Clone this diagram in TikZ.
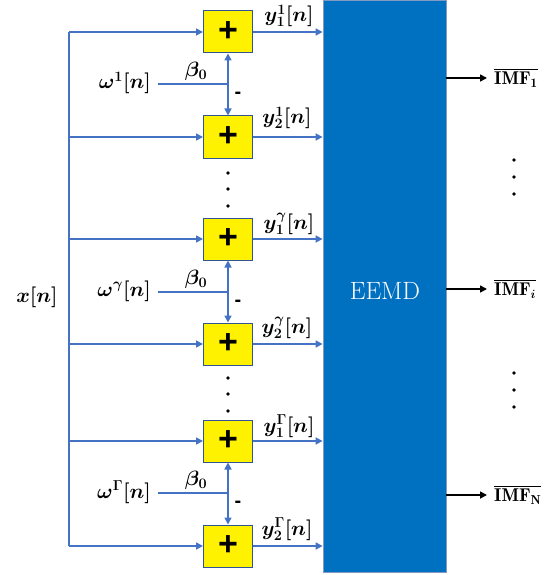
\documentclass[tikz,border=0pt]{standalone}
\usepackage{amsmath,bm}
\usepackage{fontspec}
\newfontfamily\plusfont{Liberation Sans}
\usetikzlibrary{arrows.meta}
\definecolor{lblue}{HTML}{4472C4}
\definecolor{bblue}{HTML}{0070C0}
\definecolor{bord}{HTML}{2F5597}
\tikzset{
  sumbox/.style={draw=bord,line width=1pt,fill=yellow,minimum width=49pt,minimum height=42pt,inner sep=0pt,font=\plusfont\fontsize{34}{34}\selectfont\bfseries},
  bl/.style={draw=lblue,line width=1.6pt},
  blarr/.style={bl,-{Triangle[length=7pt,width=7pt]}},
  blarr2/.style={bl,{Triangle[length=7pt,width=7pt]}-{Triangle[length=7pt,width=7pt]}},
  lab/.style={font=\fontsize{20.5}{22}\selectfont,inner sep=0pt},
  imf/.style={font=\fontsize{18.5}{20}\selectfont,inner sep=0pt},
  blk/.style={draw=black,line width=1.6pt,-{Triangle[length=7pt,width=7pt]}},
  dot/.style={circle,fill=black,inner sep=0pt,minimum size=3.8pt},
}
\begin{document}
\begin{tikzpicture}[x=1pt,y=-1pt]
\useasboundingbox (0,0) rectangle (557,575);
% EEMD block
\node[draw=bord!60,line width=0.8pt,fill=bblue,minimum width=123pt,minimum height=572pt,inner sep=0pt] (eemd) at (384.5,286) {};
\node[text=white,font=\fontsize{25}{25}\selectfont,inner sep=0pt] (eemdt) at (385,291) {EEMD};
% sum boxes
\node[sumbox] (b1) at (228,32) {+};
\node[sumbox] (b2) at (228,137) {+};
\node[sumbox] (b3) at (228,239) {+};
\node[sumbox] (b4) at (228,344) {+};
\node[sumbox] (b5) at (228,441) {+};
\node[sumbox] (b6) at (228,546) {+};
% left bus
\coordinate (Lt) at (69,32);
\coordinate (Lb) at (69,546);
\draw[bl] (Lt) -- (Lb);
\foreach \i in {1,...,6}{
  \coordinate (l\i) at (b\i.west -| Lt);
  \draw[blarr] (l\i) -- (b\i.west);
  \draw[blarr] (b\i.east) -- (b\i.east -| eemd.west);
}
\node[lab] (xn) at (37,297) {$\bm{x[n]}$};
% noise injections
\foreach \k/\a/\b/\yy/\sup in {1/b1/b2/84/1, 2/b3/b4/292/\gamma, 3/b5/b6/493/\Gamma}{
  \coordinate (w\k) at (158,\yy);
  \coordinate (j\k) at (228,\yy);
  \draw[bl] (w\k) -- (j\k);
  \draw[blarr2] (\a.south) -- (\b.north);
  \node[lab,anchor=east] (wl\k) at (151,\yy-1) {$\bm{\omega^{\sup}[n]}$};
  \node[lab] (be\k) at (196,\yy-12.5) {$\bm{\beta_0}$};
  \node[lab,font=\plusfont\fontsize{20}{20}\selectfont\bfseries] (mi\k) at (238,\yy+11) {-};
}
% output labels
\node[lab] (y11) at (289,16) {$\bm{y_1^{1}[n]}$};
\node[lab] (y21) at (287,118) {$\bm{y_2^{1}[n]}$};
\node[lab] (y1g) at (289,224) {$\bm{y_1^{\gamma}[n]}$};
\node[lab] (y2g) at (287,328) {$\bm{y_2^{\gamma}[n]}$};
\node[lab] (y1G) at (289,426) {$\bm{y_1^{\Gamma}[n]}$};
\node[lab] (y2G) at (287,529) {$\bm{y_2^{\Gamma}[n]}$};
% dots
\foreach \yy in {173,189,206,378,394,411}{
  \node[dot] at (228,\yy) {};
}
\foreach \yy in {160,177,194,373,390,407}{
  \node[dot] at (514,\yy) {};
}
% outputs
\foreach \k/\yy/\txt in {1/78/{\overline{\mathbf{IMF}_{\mathbf{1}}}}, 2/289/{\overline{\mathbf{IMF}_{\bm{i}}}}, 3/495/{\overline{\mathbf{IMF}_{\mathbf{N}}}}}{
  \coordinate (o\k) at (487,\yy);
  \draw[blk] (eemd.east |- o\k) -- (o\k);
  \node[imf,anchor=west] (im\k) at (494,\yy) {$\txt$};
}
\end{tikzpicture}
\end{document}
